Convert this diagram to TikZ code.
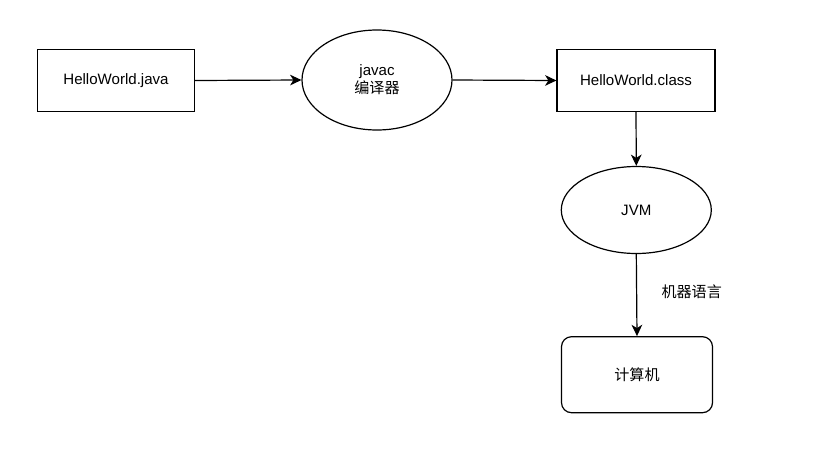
\documentclass[tikz,border=0pt]{standalone}
\usepackage{fontspec}
\setmainfont{Liberation Sans}
\newfontfamily\cjk{Noto Sans CJK SC}
\usetikzlibrary{shapes.geometric,arrows.meta}
\begin{document}
\begin{tikzpicture}[x=0.75pt,y=-0.75pt,
  every node/.style={font=\fontsize{11.3}{13.5}\selectfont, inner sep=0pt, line width=0.9pt},
  boxnode/.style={draw, rectangle, minimum width=117.75pt, minimum height=46.5pt},
  ovalnode/.style={draw, ellipse, minimum width=112.5pt, minimum height=75pt},
  roundnode/.style={draw, rectangle, rounded corners=7.5pt, minimum width=113.25pt, minimum height=57pt},
  conn/.style={line width=0.9pt, -{Stealth[length=8.5pt,width=8pt,inset=2.5pt]}}]
\useasboundingbox (0,0) rectangle (825,454);
\node[boxnode] (java) at (116,80.5) {HelloWorld.java};
\node[ovalnode, align=center] (javac) at (377,80) {javac\\{\cjk 编译器}};
\node[boxnode, minimum width=118.5pt] (cls) at (636,80.5) {HelloWorld.class};
\node[ovalnode, minimum height=65.25pt] (jvm) at (636.3,210) {JVM};
\node[roundnode] (pc) at (637,374.7) {\cjk 计算机};
\node (lbl) at (691.7,291.7) {\cjk 机器语言};
\draw[conn] (java.east) -- (javac.west);
\draw[conn] (javac.east) -- (cls.west);
\draw[conn] (cls.south) -- (jvm.north);
\draw[conn] (jvm.south) -- (pc.north);
\end{tikzpicture}
\end{document}
